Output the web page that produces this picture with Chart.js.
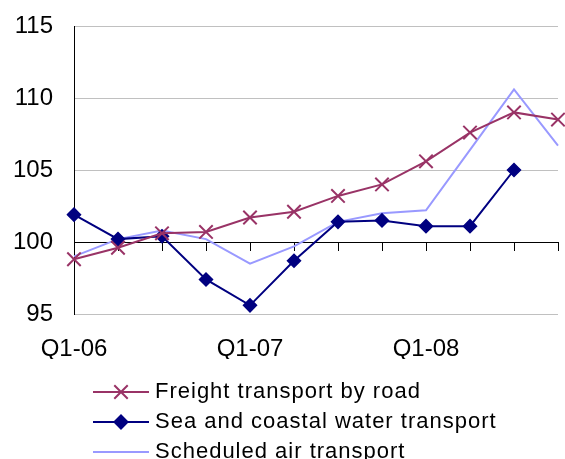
<!DOCTYPE html>
<html>
<head>
<meta charset="utf-8">
<script src="https://cdn.jsdelivr.net/npm/chart.js@4/dist/chart.umd.min.js"></script>
<style>
  html, body { margin: 0; padding: 0; background: #ffffff; }
  #wrap { width: 565px; height: 459px; position: relative; overflow: hidden; }
</style>
</head>
<body>
<div id="wrap"><canvas id="chart" width="565" height="459"></canvas></div>
<script>
// Quarterly indices, 2006–2008
const quarters = ['Q1-06', 'Q2-06', 'Q3-06', 'Q4-06',
                  'Q1-07', 'Q2-07', 'Q3-07', 'Q4-07',
                  'Q1-08', 'Q2-08', 'Q3-08', 'Q4-08'];
const roadFreight  = [98.8, 99.6, 100.6, 100.7, 101.7, 102.1, 103.2, 104.0, 105.6, 107.6, 109.0, 108.5];
const seaCoastal   = [101.9, 100.2, 100.4, 97.4, 95.6, 98.7, 101.4, 101.5, 101.1, 101.1, 105.0, null];
const airScheduled = [99.0, 100.2, 100.8, 100.2, 98.5, 99.7, 101.4, 102.0, 102.2, 106.4, 110.6, 106.7];
const yTicks = [95, 100, 105, 110, 115];
const seriesNames = ['Freight transport by road', 'Sea and coastal water transport', 'Scheduled air transport'];

const FONT = 'Liberation Sans, Arial, sans-serif';

// Legend drawn underneath the axis labels: a line sample with its marker, then the name
const legendRows = {
  id: 'legendRows',
  afterDraw(chart) {
    const ctx = chart.ctx;
    const x0 = 93, x1 = 149, tx = 155;
    const lineY = [392, 422, 452];
    chart.data.datasets.forEach((ds, i) => {
      const y = lineY[i];
      ctx.save();
      ctx.strokeStyle = ds.borderColor;
      ctx.fillStyle = ds.pointBackgroundColor || ds.borderColor;
      ctx.lineWidth = ds.borderWidth;
      ctx.beginPath();
      ctx.moveTo(x0, y);
      ctx.lineTo(x1, y);
      ctx.stroke();
      if (ds.pointRadius > 0) {
        ctx.strokeStyle = ds.pointBorderColor || ds.borderColor;
        Chart.helpers.drawPoint(ctx, {
          pointStyle: ds.pointStyle,
          radius: ds.pointRadius,
          borderWidth: ds.pointBorderWidth,
          rotation: 0
        }, (x0 + x1) / 2, y);
      }
      ctx.fillStyle = '#000000';
      ctx.font = '22px ' + FONT;
      ctx.letterSpacing = '1px';
      ctx.textBaseline = 'alphabetic';
      ctx.textAlign = 'left';
      ctx.fillText(ds.label, tx, y + 6);
      ctx.restore();
    });
  }
};

new Chart(document.getElementById('chart'), {
  type: 'line',
  data: {
    labels: quarters,
    datasets: [
      {
        label: seriesNames[0],
        data: roadFreight,
        borderColor: '#993366',
        backgroundColor: '#993366',
        borderWidth: 2,
        pointStyle: 'crossRot',
        pointRadius: 9.5,
        pointBorderWidth: 2,
        pointBorderColor: '#993366',
        pointBackgroundColor: '#993366',
        tension: 0,
        clip: false
      },
      {
        label: seriesNames[1],
        data: seaCoastal,
        borderColor: '#000080',
        backgroundColor: '#000080',
        borderWidth: 2,
        pointStyle: 'rectRot',
        pointRadius: 6.5,
        pointBorderWidth: 1.5,
        pointBorderColor: '#000080',
        pointBackgroundColor: '#000080',
        tension: 0,
        spanGaps: false,
        clip: false
      },
      {
        label: seriesNames[2],
        data: airScheduled,
        borderColor: '#9999ff',
        backgroundColor: '#9999ff',
        borderWidth: 2,
        pointRadius: 0,
        pointHoverRadius: 0,
        tension: 0,
        clip: false
      }
    ]
  },
  options: {
    responsive: false,
    animation: false,
    devicePixelRatio: 1,
    layout: { autoPadding: false, padding: { top: 26, right: 7, left: 0, bottom: 100 } },
    plugins: {
      legend: { display: false },
      tooltip: { enabled: false }
    },
    scales: {
      // category axis crossing the value axis at 100, tick marks hanging below it
      x: {
        type: 'category',
        position: { y: 100 },
        offset: false,
        grid: {
          drawOnChartArea: false,
          drawTicks: true,
          tickLength: 8,
          tickColor: '#000000',
          tickWidth: 1
        },
        border: { display: true, color: '#000000', width: 1 },
        ticks: { display: false },
        afterFit: (scale) => { scale.height = 0; }
      },
      // quarter labels along the bottom of the plot
      x2: {
        type: 'category',
        labels: quarters,
        position: 'bottom',
        offset: false,
        grid: { display: false, drawTicks: true, tickLength: 21 },
        border: { display: false },
        ticks: {
          autoSkip: false,
          maxRotation: 0,
          minRotation: 0,
          padding: 0,
          color: '#000000',
          font: { family: FONT, size: 24 },
          callback: (v, i) => quarters[i].startsWith('Q1') ? quarters[i] : ''
        },
        afterFit: (scale) => { scale.height = 45; }
      },
      y: {
        min: yTicks[0],
        max: yTicks[yTicks.length - 1],
        afterBuildTicks: (scale) => { scale.ticks = yTicks.map(v => ({ value: v })); },
        grid: {
          color: '#c0c0c0',
          lineWidth: 1,
          drawTicks: true,
          tickLength: 21,
          tickColor: 'rgba(0,0,0,0)'
        },
        border: { display: true, color: '#000000', width: 1 },
        ticks: {
          padding: 0,
          color: '#000000',
          font: { family: FONT, size: 24 }
        },
        afterFit: (scale) => { scale.width = 74; }
      }
    }
  },
  plugins: [legendRows]
});
</script>
</body>
</html>
